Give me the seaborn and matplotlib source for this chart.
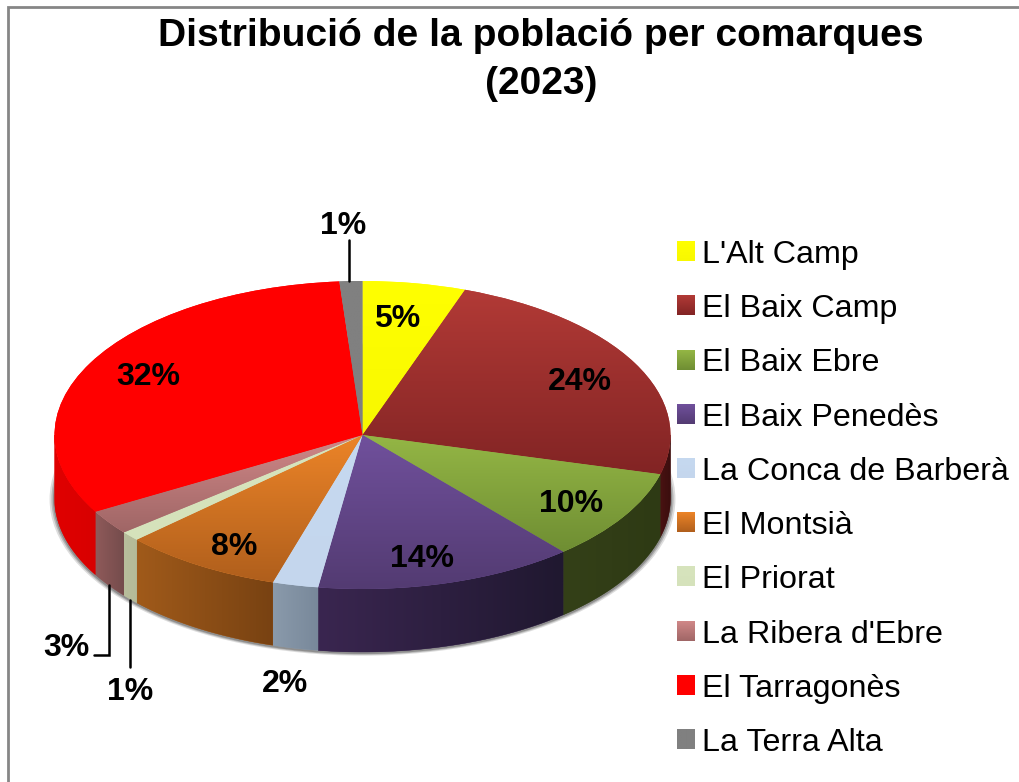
import numpy as np
import seaborn as sns
import matplotlib.pyplot as plt
from matplotlib.colors import to_rgb
from matplotlib.lines import Line2D
from matplotlib.patches import Polygon

comarques = ["L'Alt Camp", "El Baix Camp", "El Baix Ebre", "El Baix Penedès", "La Conca de Barberà",
             "El Montsià", "El Priorat", "La Ribera d'Ebre", "El Tarragonès", "La Terra Alta"]
poblacio = [5.4, 23.7, 9.6, 13.6, 2.4, 8.4, 1.0, 2.6, 32.1, 1.2]
percent = ["5%", "24%", "10%", "14%", "2%", "8%", "1%", "3%", "32%", "1%"]

# colours of the top face (upper, lower) and of the side wall (left, right)
top_a = ["#FFFF00", "#B23A36", "#94B645", "#70509C", "#C6D9F0", "#EC8428", "#D7E4BD", "#D08888", "#FF0000", "#808080"]
top_b = ["#F8F800", "#822424", "#6F8E33", "#533B72", "#C4D6ED", "#B05F1C", "#D5E2BB", "#A06666", "#FF0000", "#808080"]
wall_a = ["#333300", "#4A1212", "#344018", "#3A2650", "#8A9AAB", "#A05A1A", "#B8BE9C", "#905A5A", "#E00000", "#505050"]
wall_b = ["#333300", "#3A0E0E", "#2E3A14", "#201830", "#78889A", "#784212", "#B4BA98", "#744C4C", "#D80000", "#505050"]

W, H = 1019, 782
CX, CY, RX, RY, DEPTH = 362.5, 435, 308, 154, 63

sns.set_theme(style="white")
plt.rcParams["font.family"] = ["Liberation Sans", "DejaVu Sans"]

fig = plt.figure(figsize=(W / 100, H / 100), dpi=100)
ax = fig.add_axes([0, 0, 1, 1])
depth = DEPTH / RY


def gradient(c1, c2, extent, vertical, zorder, clip):
    ramp = np.linspace(to_rgb(c1), to_rgb(c2), 64)
    img = ramp[:, None, :] if vertical else ramp[None, :, :]
    im = ax.imshow(img, extent=extent, aspect="auto", interpolation="bilinear", zorder=zorder)
    if clip is not None:
        im.set_clip_path(clip)
    return im


# soft shadow under the cake
for grow, shade in [(1.016, "#DDDDDD"), (1.010, "#B5B5B5"), (1.005, "#8E8E8E")]:
    ax.pie([1], radius=grow, center=(0, -depth - 0.008), colors=[shade], wedgeprops={"linewidth": 0, "zorder": 1})

# side walls, front half only
edges = np.concatenate([[0], np.cumsum(poblacio)]) / sum(poblacio) * 2 * np.pi
for i in range(len(poblacio)):
    t0, t1 = max(edges[i], np.pi / 2), min(edges[i + 1], 3 * np.pi / 2)
    if t1 <= t0:
        continue
    t = np.linspace(t0, t1, 80)
    x, y = np.sin(t), np.cos(t)
    verts = np.vstack([np.column_stack([x, y]), np.column_stack([x, y - depth])[::-1]])
    wall = Polygon(verts, closed=True, facecolor=wall_a[i], edgecolor=wall_a[i], linewidth=0.3, zorder=2)
    ax.add_patch(wall)
    gradient(wall_a[i], wall_b[i], (x.min(), x.max(), (y - depth).min(), y.max()), False, 2.5, wall)

# top face
wedges, _ = ax.pie(poblacio, colors=sns.color_palette(top_a), startangle=90, counterclock=False,
                   radius=1, wedgeprops={"linewidth": 0, "zorder": 3})
for i, w in enumerate(wedges):
    b = w.get_path().get_extents()
    gradient(top_a[i], top_b[i], (b.x0, b.x1, b.y0, b.y1), True, 3.5, w)

ax.set_aspect("auto")
ax.set_xlim(-CX / RX, (W - CX) / RX)
ax.set_ylim((CY - H) / RY, CY / RY)
ax.axis("off")


def px(x, y):
    return x / W, 1 - y / H


# title
fig.text(*px(541, 60), "Distribució de la població per comarques\n(2023)", ha="center", va="center",
         fontsize=28.1, fontweight="bold", color="black", linespacing=1.45)

# percentage labels
label_x = [397, 580, 571, 422, 285, 234, 130, 66, 148, 343]
label_y = [319, 382, 504, 559, 684, 547, 692, 648, 377, 226]
for s, lx, ly in zip(percent, label_x, label_y):
    fig.text(*px(lx, ly), s, ha="center", va="center", fontsize=23, fontweight="bold", color="black", zorder=6)

# leader lines
for xs, ys in [([349, 349], [240, 281]), ([130, 130], [600, 667]), ([109, 109, 94], [585, 655, 655])]:
    fig.add_artist(Line2D([v / W for v in xs], [1 - v / H for v in ys], color="black", lw=1.8, zorder=6,
                          solid_joinstyle="miter"))

# legend
leg = ax.legend(wedges, comarques, loc="upper left", bbox_to_anchor=px(677, 240), bbox_transform=fig.transFigure,
                frameon=False, fontsize=23.25, borderpad=0, borderaxespad=0, labelcolor="black",
                handlelength=0.53, handleheight=0.53, handletextpad=0.25, labelspacing=0.75)
fig.canvas.draw()
inv = ax.transData.inverted()
for i, h in enumerate(leg.legend_handles):
    e = h.get_window_extent().transformed(inv)
    gradient(top_a[i], top_b[i], (e.x0, e.x1, e.y0, e.y1), True, 7, None)
ax.set_xlim(-CX / RX, (W - CX) / RX)
ax.set_ylim((CY - H) / RY, CY / RY)

# chart border, only top and left are inside the crop
fig.add_artist(Line2D([8 / W, 8 / W, 1], [0, 1 - 7 / H, 1 - 7 / H], color="#868686", lw=2, solid_joinstyle="miter"))

fig.savefig("out.png", dpi=100)
